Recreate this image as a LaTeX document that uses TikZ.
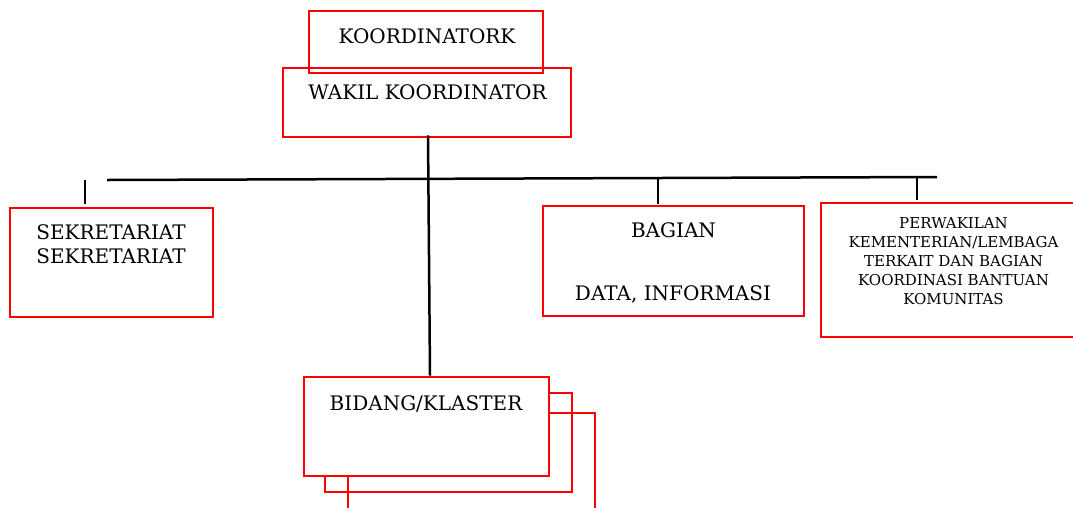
\documentclass[tikz,border=0pt]{standalone}
\usepackage{fontspec}
\setmainfont{DejaVu Serif}
\usetikzlibrary{positioning}

\begin{document}
\begin{tikzpicture}[x=1pt,y=-1pt,
  kotak/.style={draw=red,line width=2.8pt,inner sep=0pt},
  garis/.style={draw=black,line width=2.5pt},
  teks/.style={anchor=base,inner sep=0pt,align=center,font=\fontsize{20}{24}\selectfont},
  teksk/.style={anchor=base,inner sep=0pt,align=center,font=\fontsize{15}{18.8}\selectfont}]
 \useasboundingbox (0,0) rectangle (1073,507);
 % top boxes
 \node[kotak,minimum width=234pt,minimum height=62pt] (koor) at (426,42) {};
 \node[kotak,minimum width=288pt,minimum height=69pt] (wakil) at (427,102.5) {};
 \node[teks] (koor-t) at (427,43) {KOORDINATORK};
 \node[teks] (wakil-t) at (427.5,99) {WAKIL KOORDINATOR};
 % second row
 \node[kotak,minimum width=203pt,minimum height=109pt] (sek) at (111.5,262.5) {};
 \node[teks] (sek-t) at (111,263) {SEKRETARIAT\\SEKRETARIAT};
 \node[kotak,minimum width=261pt,minimum height=110pt] (bag) at (673.5,261) {};
 \node[teks] (bag-t) at (673.5,237) {BAGIAN};
 \node[teks] (bag-t2) at (673,300) {DATA, INFORMASI};
 \node[kotak,minimum width=259pt,minimum height=134pt] (perw) at (950.5,270) {};
 \node[teksk] (perw-t) at (953.5,304) {PERWAKILAN\\KEMENTERIAN/LEMBAGA\\TERKAIT DAN BAGIAN\\KOORDINASI BANTUAN\\KOMUNITAS};
 % bidang stack
 \draw[kotak] (325,393) rectangle (572,492);
 \draw[kotak] (348,413) rectangle (595,520);
 \node[kotak,fill=white,minimum width=245pt,minimum height=99pt] (bid) at (426.5,426.5) {};
 \node[teks] (bid-t) at (426,410) {BIDANG/KLASTER};
 % lines
 \coordinate (hl) at (107,180);
 \coordinate (hr) at (937,177);
 \draw[garis] (hl) -- (hr);
 \draw[garis] ([xshift=1pt,yshift=3pt]wakil.south) -- ([xshift=3.5pt]bid.north);
 \draw[garis] ([xshift=-26.5pt,yshift=3pt]sek.north) -- ++(0,-24);
 \draw[garis] ([xshift=-15.5pt,yshift=1pt]bag.north) -- ++(0,-25);
 \draw[garis] ([xshift=-33.5pt,yshift=2pt]perw.north) -- ++(0,-23);
\end{tikzpicture}
\end{document}
